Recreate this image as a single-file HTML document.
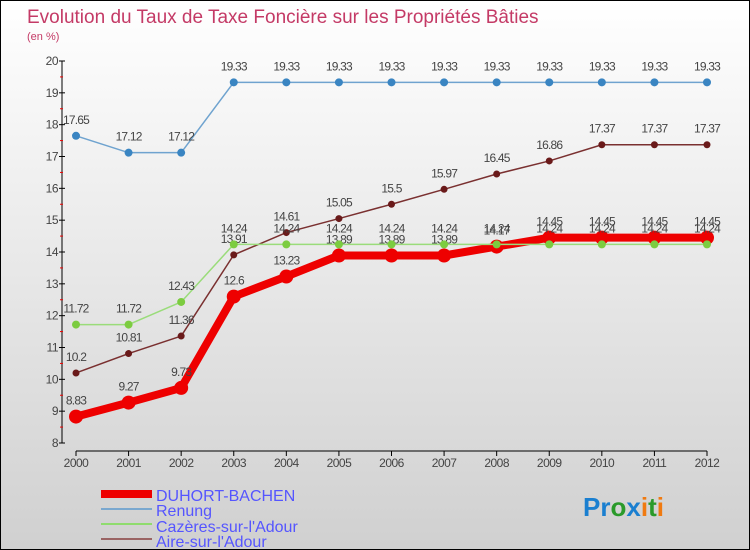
<!DOCTYPE html>
<html><head><meta charset="utf-8"><style>
body{margin:0}
#c{width:750px;height:550px;position:relative;overflow:hidden;box-sizing:border-box;border:1px solid #000;background:linear-gradient(#ffffff,#d0d0d0);font-family:"Liberation Sans",sans-serif}
</style></head><body>
<div id="c">
<svg id="s" width="750" height="550" style="position:absolute;left:0;top:0">
<text x="26" y="22" font-size="19" fill="#c43a66">Evolution du Taux de Taxe Foncière sur les Propriétés Bâties</text>
<text x="26" y="39" font-size="11" fill="#c43a66">(en %)</text>
<g id="axes"></g><g id="series"></g>
<g>
<rect x="100" y="489" width="51" height="8" fill="#e00"/>
<text x="155" y="500" font-size="16" fill="#55f">DUHORT-BACHEN</text>
<line x1="100" x2="151" y1="508" y2="508" stroke="#7aa8cf" stroke-width="2"/>
<text x="155" y="515" font-size="16" fill="#55f">Renung</text>
<line x1="100" x2="151" y1="523" y2="523" stroke="#8fdc6e" stroke-width="2"/>
<text x="155" y="531" font-size="16" fill="#55f">Cazères-sur-l'Adour</text>
<line x1="100" x2="151" y1="538" y2="538" stroke="#9a6464" stroke-width="2"/>
<text x="155" y="546" font-size="16" fill="#55f">Aire-sur-l'Adour</text>
</g>
<text x="582" y="515" font-size="26" font-weight="bold"><tspan fill="#1a7fd0">Pr</tspan><tspan fill="#2a9a2a">o</tspan><tspan fill="#1a7fd0">x</tspan><tspan fill="#f07a10">i</tspan><tspan fill="#2a9a2a">t</tspan><tspan fill="#f07a10">i</tspan></text>
</svg>
</div>
<script>
const years=[2000,2001,2002,2003,2004,2005,2006,2007,2008,2009,2010,2011,2012];
const yTicks=[8,9,10,11,12,13,14,15,16,17,18,19,20];
const duhort=[8.83,9.27,9.73,12.6,13.23,13.89,13.89,13.89,14.17,14.45,14.45,14.45,14.45];
const renung=[17.65,17.12,17.12,19.33,19.33,19.33,19.33,19.33,19.33,19.33,19.33,19.33,19.33];
const cazeres=[11.72,11.72,12.43,14.24,14.24,14.24,14.24,14.24,14.24,14.24,14.24,14.24,14.24];
const aire=[10.2,10.81,11.36,13.91,14.61,15.05,15.5,15.97,16.45,16.86,17.37,17.37,17.37];
const NS='http://www.w3.org/2000/svg';
const X=i=>75+i*(706-75)/(years.length-1);
const Y=v=>442-(v-8)*(442-60)/12;
function mk(t,a,p){const e=document.createElementNS(NS,t);for(const k in a)e.setAttribute(k,a[k]);p.appendChild(e);return e;}
const ax=document.getElementById('axes'),sg=document.getElementById('series');
let l=mk('line',{x1:61,x2:61,y1:60,y2:442,stroke:'#000','stroke-width':1},ax);


l=mk('line',{x1:75,x2:706,y1:450,y2:450,stroke:'#000','stroke-width':1},ax);


yTicks.forEach(v=>{
 mk('line',{x1:58,x2:64,y1:Y(v),y2:Y(v),stroke:'#000'},ax);
 if(v<20)mk('line',{x1:59,x2:62,y1:Y(v+0.5),y2:Y(v+0.5),stroke:'#e00'},ax);
 const t=mk('text',{x:57,y:Y(v)+4,'font-size':12,fill:'#444','text-anchor':'end','letter-spacing':'-0.5'},ax);t.textContent=v;
 
 
});
years.forEach((yr,i)=>{
 mk('line',{x1:X(i),x2:X(i),y1:450,y2:455,stroke:'#000'},ax);
 const t=mk('text',{x:X(i),y:466,'font-size':12,fill:'#444','text-anchor':'middle','letter-spacing':'-0.5'},ax);t.textContent=yr;
 
 
});
function series(vals,color,w,r,name,mc){
 const g=mk('g',{},sg);
 
 
 mk('polyline',{points:vals.map((v,i)=>X(i)+','+Y(v)).join(' '),fill:'none',stroke:color,'stroke-width':w,'stroke-linejoin':'round'},g);
 vals.forEach((v,i)=>{
  const c=mk('circle',{cx:X(i),cy:Y(v),r:r,fill:mc||color},g);
  
  
  const t=mk('text',{x:X(i),y:Y(v)-12,'font-size':12,fill:'#444','text-anchor':'middle','letter-spacing':'-0.8'},g);t.textContent=v;
  
  
 });
}
series(renung,'#6fa3cf',1.5,4,'series-renung','#3a85c2');
series(aire,'#7a3030',1.5,3.5,'series-aire','#6a1a1a');
series(duhort,'#ee0000',8,7,'series-duhort','#ee0000');
series(cazeres,'#9adc7a',1.5,4,'series-cazeres','#7ccc40');
</script>
</body></html>
